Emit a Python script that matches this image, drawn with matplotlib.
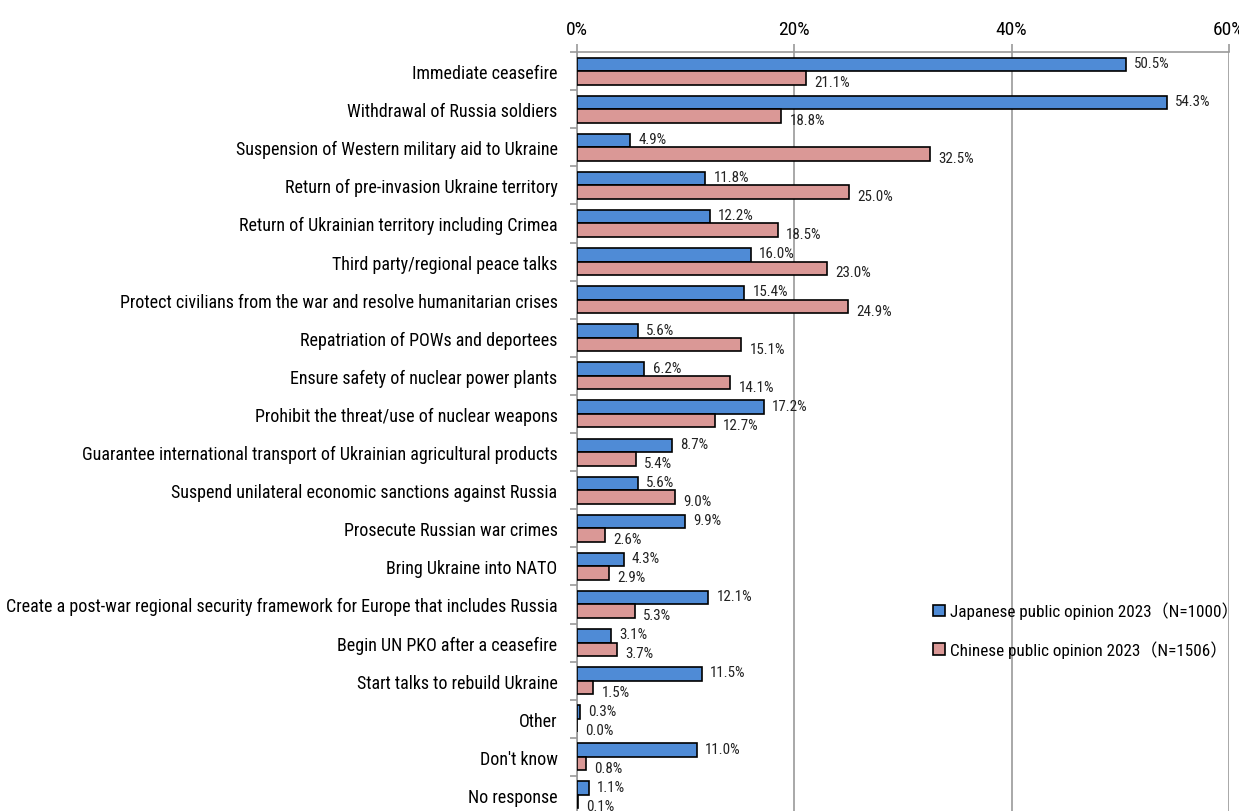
import matplotlib
matplotlib.use("Agg")
import matplotlib.pyplot as plt
import numpy as np
from matplotlib.font_manager import fontManager

# find a condensed/narrow sans font if installed
cond_name = None
cond_stretch = "normal"
for f in fontManager.ttflist:
    if "Narrow" in f.name and "Liberation" in f.name:
        cond_name, cond_stretch = f.name, "normal"
        break
if cond_name is None:
    for pref in ["Liberation Sans", "Roboto", "Open Sans", "Noto Sans", "DejaVu Sans"]:
        for f in fontManager.ttflist:
            if (f.name == pref or f.name.startswith(pref)) and (
                    "Condensed" in f.name or "Narrow" in f.name or
                    (isinstance(f.stretch, str) and "condensed" in f.stretch) or
                    (isinstance(f.stretch, int) and f.stretch < 500)):
                cond_name = f.name
                cond_stretch = f.stretch if f.name == pref else "normal"
                break
        if cond_name:
            break
have_cond = cond_name is not None
base = cond_name if have_cond else "Liberation Sans"
fam = [base, "Liberation Sans", "Noto Sans CJK JP", "DejaVu Sans"]
plt.rcParams['font.family'] = fam
plt.rcParams['font.stretch'] = cond_stretch
scale = 1.0 if have_cond else 0.88

categories = [
    "Immediate ceasefire",
    "Withdrawal of Russia soldiers",
    "Suspension of Western military aid to Ukraine",
    "Return of pre-invasion Ukraine territory",
    "Return of Ukrainian territory including Crimea",
    "Third party/regional peace talks",
    "Protect civilians from the war and resolve humanitarian crises",
    "Repatriation of POWs and deportees",
    "Ensure safety of nuclear power plants",
    "Prohibit the threat/use of nuclear weapons",
    "Guarantee international transport of Ukrainian agricultural products",
    "Suspend unilateral economic sanctions against Russia",
    "Prosecute Russian war crimes",
    "Bring Ukraine into NATO",
    "Create a post-war regional security framework for Europe that includes Russia",
    "Begin UN PKO after a ceasefire",
    "Start talks to rebuild Ukraine",
    "Other",
    "Don't know",
    "No response",
]
japan = [50.5, 54.3, 4.9, 11.8, 12.2, 16.0, 15.4, 5.6, 6.2, 17.2, 8.7, 5.6, 9.9, 4.3, 12.1, 3.1, 11.5, 0.3, 11.0, 1.1]
china = [21.1, 18.8, 32.5, 25.0, 18.5, 23.0, 24.9, 15.1, 14.1, 12.7, 5.4, 9.0, 2.6, 2.9, 5.3, 3.7, 1.5, 0.0, 0.8, 0.1]
series_names = ["Japanese public opinion 2023\uff08N=1000\uff09", "Chinese public opinion 2023\uff08N=1506\uff09"]
xticks = [0, 20, 40, 60]

blue = "#4F8BD6"
pink = "#DA9896"

fig = plt.figure(figsize=(12.39, 8.12), dpi=100)
ax = fig.add_axes([577/1239, -3/812, (1229-577)/1239, (812-53+3)/812])

n = len(categories)
y = np.arange(n)
h = 0.355
ax.barh(y - h/2, japan, height=h, color=blue, edgecolor="black", linewidth=1.2, label=series_names[0], zorder=3)
ax.barh(y + h/2, china, height=h, color=pink, edgecolor="black", linewidth=1.2, label=series_names[1], zorder=3)

vfs = 10.8 * scale
for yi, v in zip(y, japan):
    ax.annotate(f"{v:.1f}%", (v, yi - h/2), xytext=(6, 1), textcoords="offset points",
                va="center", ha="left", fontsize=vfs, color="#222222", zorder=4)
for yi, v in zip(y, china):
    ax.annotate(f"{v:.1f}%", (v, yi + h/2), xytext=(6, -3), textcoords="offset points",
                va="center", ha="left", fontsize=vfs, color="#222222", zorder=4)

ax.set_xlim(0, 60)
ax.set_ylim(n - 0.5, -0.5)
ax.xaxis.tick_top()
ax.set_xticks(xticks)
ax.set_xticklabels([f"{t}%" for t in xticks], fontsize=14 * scale)
ax.tick_params(axis="x", length=6, color="#999999", width=1.2, pad=4)
ax.set_yticks(y)
ax.set_yticklabels(categories, fontsize=13.0 if have_cond else 11.4)
ax.set_yticks(np.arange(n + 1) - 0.5, minor=True)
ax.tick_params(axis="y", which="major", length=0, pad=14)
ax.tick_params(axis="y", which="minor", length=5, color="#999999", width=1.2)
ax.grid(axis="x", color="#999999", linewidth=1.2, zorder=0)
for s in ["right", "bottom"]:
    ax.spines[s].set_visible(False)
for s in ["top", "left"]:
    ax.spines[s].set_color("#999999")
    ax.spines[s].set_linewidth(1.2)

leg = ax.legend(loc="upper left", bbox_to_anchor=(926/1239, 1 - 596/812), bbox_transform=fig.transFigure,
                frameon=False, fontsize=12.3 if have_cond else 11.0, handlelength=0.7, handleheight=0.7,
                handletextpad=0.3, labelspacing=1.25, borderaxespad=0)

fig.savefig("out.png", dpi=100)
